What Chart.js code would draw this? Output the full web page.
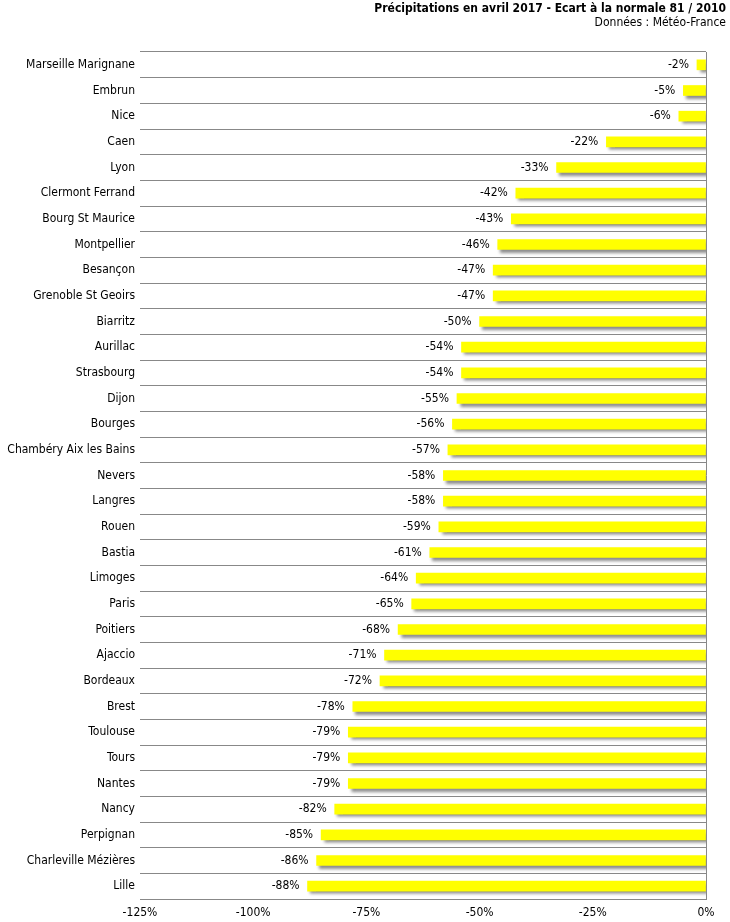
<!DOCTYPE html>
<html>
<head>
<meta charset="utf-8">
<script src="https://cdn.jsdelivr.net/npm/chart.js@4"></script>
<style>
html,body{margin:0;padding:0;background:#fff;}
#wrap{width:730px;height:922px;position:relative;}
</style>
</head>
<body>
<div id="wrap"><canvas id="c"></canvas></div>
<script>
const cities = ["Marseille Marignane","Embrun","Nice","Caen","Lyon","Clermont Ferrand","Bourg St Maurice","Montpellier","Besançon","Grenoble St Geoirs","Biarritz","Aurillac","Strasbourg","Dijon","Bourges","Chambéry Aix les Bains","Nevers","Langres","Rouen","Bastia","Limoges","Paris","Poitiers","Ajaccio","Bordeaux","Brest","Toulouse","Tours","Nantes","Nancy","Perpignan","Charleville Mézières","Lille"];
const ecart = [-2,-5,-6,-22,-33,-42,-43,-46,-47,-47,-50,-54,-54,-55,-56,-57,-58,-58,-59,-61,-64,-65,-68,-71,-72,-78,-79,-79,-79,-82,-85,-86,-88];
const xTicks = [-125,-100,-75,-50,-25,0];
const titleText = "Précipitations en avril 2017 - Ecart à la normale 81 / 2010";
const subtitleText = "Données : Météo-France";

const FONT = "'DejaVu Sans Condensed','DejaVu Sans',sans-serif";

const shadowPlugin = {
  id:'shadow',
  beforeDatasetsDraw(chart){
    const ctx = chart.ctx;
    ctx.save();
    ctx.shadowColor = 'rgba(0,0,0,0.45)';
    ctx.shadowOffsetX = 3;
    ctx.shadowOffsetY = 3;
    ctx.shadowBlur = 3;
  },
  afterDatasetsDraw(chart){
    chart.ctx.restore();
  }
};

const labelPlugin = {
  id:'vlabels',
  afterDraw(chart){
    const ctx = chart.ctx;
    const meta = chart.getDatasetMeta(0);
    ctx.save();
    ctx.font = "12px " + FONT;
    ctx.fillStyle = '#000';
    ctx.textAlign = 'right';
    ctx.textBaseline = 'middle';
    meta.data.forEach((bar,i)=>{
      ctx.fillText(ecart[i] + '%', bar.x - 8, bar.y);
    });
    ctx.font = "bold 12px " + FONT;
    ctx.fillText(titleText, 726, 9);
    ctx.font = "12px " + FONT;
    ctx.fillText(subtitleText, 726, 23);
    ctx.restore();
  }
};

new Chart(document.getElementById('c'), {
  type:'bar',
  data:{
    labels: cities,
    datasets:[{
      data: ecart,
      backgroundColor:'#ffff00',
      borderWidth:0,
      barThickness:10
    }]
  },
  options:{
    indexAxis:'y',
    responsive:true,
    maintainAspectRatio:false,
    animation:false,
    layout:{padding:{top:52,right:24,bottom:2,left:0}},
    plugins:{legend:{display:false},tooltip:{enabled:false},title:{display:false}},
    scales:{
      x:{
        min:-125,max:0,
        afterBuildTicks(axis){ axis.ticks = xTicks.map(v=>({value:v})); },
        afterFit(axis){ axis.height = 21; },
        ticks:{
          callback:v=>v+'%',
          font:{family:FONT,size:12},
          color:'#000',
          padding:7,
          maxRotation:0
        },
        grid:{
          drawTicks:false,
          tickLength:0,
          color:c=> (c.tick && c.tick.value===0) ? '#888' : 'rgba(0,0,0,0)',
          lineWidth:1
        },
        border:{display:true,color:'#888'}
      },
      y:{
        afterFit(axis){ axis.width = 140; },
        ticks:{
          font:{family:FONT,size:12},
          color:'#000',
          padding:5,
          autoSkip:false
        },
        grid:{offset:true,drawTicks:false,tickLength:0,color:'#888',lineWidth:1},
        border:{display:false}
      }
    }
  },
  plugins:[shadowPlugin,labelPlugin]
});
</script>
</body>
</html>
